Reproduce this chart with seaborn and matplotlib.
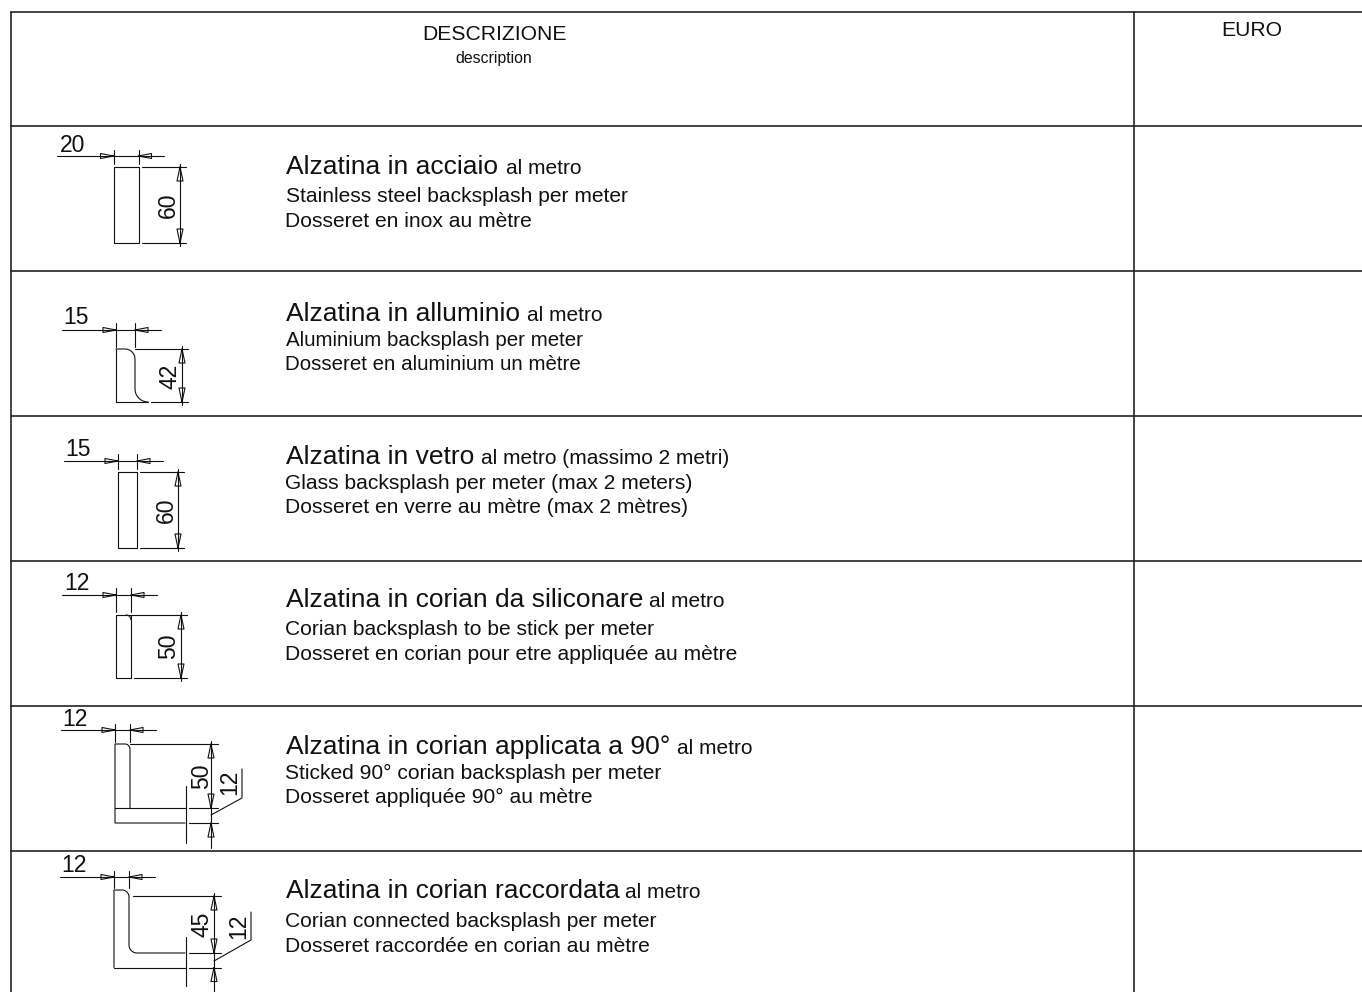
import numpy as np
import pandas as pd
import seaborn as sns
import matplotlib.pyplot as plt

# testi della tabella
header = "DESCRIZIONE"
header_sub = "description"
header_euro = "EURO"
titles = ["Alzatina in acciaio", "Alzatina in alluminio", "Alzatina in vetro",
          "Alzatina in corian da siliconare", "Alzatina in corian applicata a 90°",
          "Alzatina in corian raccordata"]
suffixes = ["al metro", "al metro", "al metro (massimo 2 metri)", "al metro", "al metro", "al metro"]
english = ["Stainless steel backsplash per meter", "Aluminium backsplash per meter",
           "Glass backsplash per meter (max 2 meters)", "Corian backsplash to be stick per meter",
           "Sticked 90° corian backsplash per meter", "Corian connected backsplash per meter"]
french = ["Dosseret en inox au mètre", "Dosseret en aluminium un mètre",
          "Dosseret en verre au mètre (max 2 mètres)", "Dosseret en corian pour etre appliquée au mètre",
          "Dosseret appliquée 90° au mètre", "Dosseret raccordée en corian au mètre"]
thickness_labels = ["20", "15", "15", "12", "12", "12"]
height_labels = ["60", "42", "60", "50", "50", "45"]
foot_labels = ["12", "12"]

# layout in pixel
rule_y = [12, 126, 271, 416, 561, 706, 851]
title_base = [174, 321, 464, 607, 754, 898]
english_base = [202, 346, 489, 635, 779, 927]
french_base = [227, 370, 513, 660, 803, 952]
suffix_x = [506, 527, 481, 649, 677, 625]
english_x = [286, 286, 285, 285, 285, 285]
body_size = [15.1, 14.75, 15.1, 15.1, 15.1, 15.1]

sns.set_theme(style='white')
plt.rcParams['font.family'] = ['Liberation Sans', 'DejaVu Sans']

rules = []
lines = []


def seg(*pts):
    lines.append(list(pts))


def arc(cx, cy, r, a0, a1):
    t = np.radians(np.linspace(a0, a1, 9))
    return [(cx + r * np.cos(a), cy + r * np.sin(a)) for a in t]


def arrow_h(x, y, d):
    seg((x, y), (x + d, y - 2.5), (x + d, y + 2.5), (x, y))


def arrow_v(x, y, d):
    seg((x, y), (x - 3, y + d), (x + 3, y + d), (x, y))


def top_dim(left, right, y, x0, x1, w0, w1):
    seg((x0, y), (x1, y))
    seg((left, w0), (left, w1))
    seg((right, w0), (right, w1))
    arrow_h(left, y, -13)
    arrow_h(right, y, 13)


def side_dim(x, top, bottom, x0, x1):
    seg((x, top - 3), (x, bottom + 3))
    seg((x0, top), (x + 6, top))
    seg((x1, bottom), (x + 6, bottom))
    arrow_v(x, top, 14)
    arrow_v(x, bottom, -14)


for y in rule_y:
    rules.append([(11, y), (1362, y)])
rules.append([(11, 12), (11, 992)])
rules.append([(1134, 12), (1134, 992)])

# riga 1
seg((113.5, 167), (138.5, 167), (138.5, 243), (113.5, 243), (113.5, 167))
top_dim(113.5, 138.5, 156, 57, 164, 150, 164)
side_dim(180, 167, 243, 142, 142)

# riga 2
seg((116, 349), (116, 402), (148, 402))
seg((116, 349), (125, 349), *arc(125, 359, 10, -90, 0), *arc(148, 389, 13, 180, 90))
top_dim(116, 135, 330, 62, 161, 323, 347)
side_dim(182, 349, 402, 135, 151)

# riga 3
seg((118, 472), (137, 472), (137, 548), (118, 548), (118, 472))
top_dim(118, 137, 461, 64, 163, 454, 469)
side_dim(178, 472, 548, 140, 140)

# riga 4
seg((116, 615), (131, 615), (131, 678), (116, 678), (116, 615))
seg(*arc(126, 620, 5, -90, 0))
top_dim(116, 131, 595, 62, 157, 588, 612)
side_dim(181, 615, 678, 131, 134)

# riga 5
seg((130, 808), (130, 749), *arc(125, 749, 5, 0, -90), (115, 744), (115, 823), (185, 823))
seg((115, 808), (185, 808))
seg((189, 808), (218, 808))
seg((189, 823), (218, 823))
seg((186, 786), (186, 843))
top_dim(115, 130, 730, 61, 156, 724, 742)
seg((130, 744), (218, 744))
seg((211, 741), (211, 848))
arrow_v(211, 744, 14)
arrow_v(211, 808, -14)
arrow_v(211, 823, 14)
seg((211, 815), (242, 798), (242, 769))

# riga 6
seg((114, 967.5), (114, 890), (122, 890), *arc(122, 897, 7, -90, 0), (129, 945), *arc(137, 945, 8, 180, 90), (185, 953))
seg((114, 967.5), (185, 967.5))
seg((189, 953), (221, 953))
seg((189, 967.5), (221, 967.5))
seg((186, 937), (186, 986))
top_dim(114, 129, 877, 60, 155, 871, 888)
seg((133, 896), (221, 896))
seg((214, 893), (214, 992))
arrow_v(214, 896, 14)
arrow_v(214, 953, -14)
arrow_v(214, 967.5, 14)
seg((214, 961), (251, 940), (251, 912))


def frame(segments):
    rows = []
    for i, pts in enumerate(segments):
        for p in pts:
            rows.append({'seg': i, 'x': p[0], 'y': p[1]})
    return pd.DataFrame(rows)


fig = plt.figure(figsize=(13.62, 9.92), dpi=100)
ax = fig.add_axes([0, 0, 1, 1])
sns.lineplot(data=frame(rules), x='x', y='y', units='seg', estimator=None, sort=False,
             color='#1a1a1a', linewidth=1.15, ax=ax)
sns.lineplot(data=frame(lines), x='x', y='y', units='seg', estimator=None, sort=False,
             color='#111111', linewidth=0.8, ax=ax)
ax.set_xlim(0, 1362)
ax.set_ylim(992, 0)
ax.axis('off')

ax.text(494, 35, header, fontsize=15.2, ha='center', va='center', color='#111111')
ax.text(494, 58, header_sub, fontsize=11.4, ha='center', va='center', color='#111111')
ax.text(1252, 31, header_euro, fontsize=15.2, ha='center', va='center', color='#111111')

for i in range(6):
    ax.text(286, title_base[i], titles[i], fontsize=19, va='baseline', color='#111111')
    ax.text(suffix_x[i], title_base[i], suffixes[i], fontsize=15, va='baseline', color='#111111')
    ax.text(english_x[i], english_base[i], english[i], fontsize=body_size[i], va='baseline', color='#111111')
    ax.text(285, french_base[i], french[i], fontsize=body_size[i], va='baseline', color='#111111')

# quote del disegno
thick_pos = [(73, 145), (76, 318), (78, 450), (77, 584), (75, 719), (74, 866)]
height_pos = [(168, 205), (170, 376), (166, 510), (169, 646), (202, 776), (202, 924)]
for i in range(6):
    ax.text(*thick_pos[i], thickness_labels[i], fontsize=16.5, ha='center', va='center', color='#111111')
    ax.text(*height_pos[i], height_labels[i], fontsize=16.5, rotation=90, ha='center', va='center', color='#111111')
ax.text(230, 782, foot_labels[0], fontsize=16.5, rotation=90, ha='center', va='center', color='#111111')
ax.text(239, 926, foot_labels[1], fontsize=16.5, rotation=90, ha='center', va='center', color='#111111')

fig.savefig('out.png', dpi=100)
